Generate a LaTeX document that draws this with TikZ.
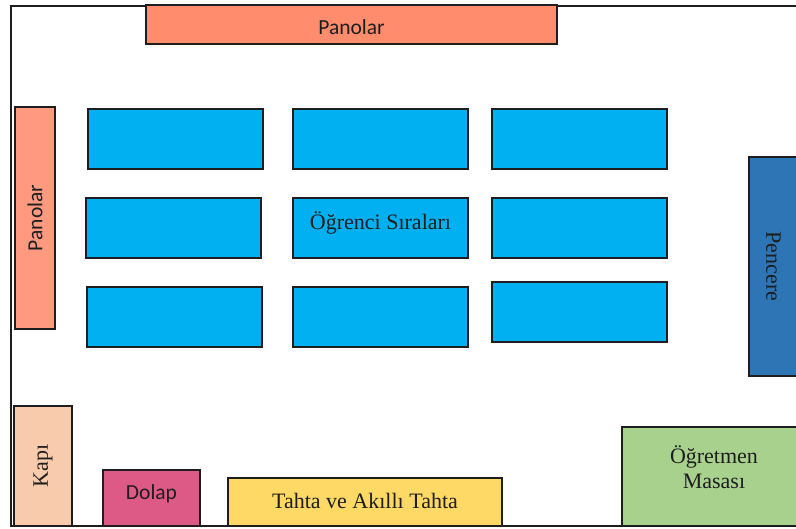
\documentclass[tikz,border=0pt]{standalone}
\usepackage{fontspec}
\usepackage{graphicx}
\setmainfont{Liberation Serif}
\newfontfamily\calibri{Carlito}

\definecolor{panelTop}{HTML}{FF8C6C}
\definecolor{panelSide}{HTML}{FF9A80}
\definecolor{deskBlue}{HTML}{00B0F0}
\definecolor{windowBlue}{HTML}{2E75B6}
\definecolor{doorPeach}{HTML}{F8CBAD}
\definecolor{cabinetPink}{HTML}{DE5A86}
\definecolor{boardYellow}{HTML}{FFD966}
\definecolor{tableGreen}{HTML}{A9D18E}
\definecolor{ink}{HTML}{1E1E1E}

% move a label up or down without changing its box size
\newcommand{\lift}[2]{\raisebox{#1}[\height][\depth]{#2}}

\begin{document}
\begin{tikzpicture}[x=1pt,y=-1pt,
  wall/.style={draw=ink, line width=1.8pt},
  item/.style={draw=ink, line width=1.9pt, inner sep=0pt, outer sep=0pt,
               anchor=north west, text=ink, align=center},
  sz/.style 2 args={minimum width=#1pt, minimum height=#2pt},
  serif/.style={font=\fontsize{22}{26}\selectfont},
  sans/.style={font=\calibri\fontsize{21.5}{26}\selectfont},
  desk/.style={item, fill=deskBlue, sz={175}{60}}]

\useasboundingbox (0,0) rectangle (796,529);
\fill[white] (0,0) rectangle (796,529);

% classroom walls (open on the window side)
\draw[wall] (800,6) -- (11,6) -- (11,526) -- (800,526);

% notice boards
\node[item, fill=panelTop, sz={411}{39}, sans] (panoTop) at (146,5) {\lift{-2.5pt}{Panolar}};
\node[item, fill=panelSide, sz={40}{222}, sans] (panoSide) at (15,107) {\rotatebox{90}{Panolar}};

% student desks, three rows by three columns
\node[desk] (d11) at (88,109) {};
\node[desk] (d12) at (293,109) {};
\node[desk] (d13) at (492,109) {};
\node[desk] (d21) at (86,198) {};
\node[desk, serif] (d22) at (293,198) {\lift{5pt}{Öğrenci Sıraları}};
\node[desk] (d23) at (492,198) {};
\node[desk] (d31) at (87,287) {};
\node[desk] (d32) at (293,287) {};
\node[desk] (d33) at (492,282) {};

% window
\node[item, fill=windowBlue, sz={49}{219}, serif] (window) at (749,157) {\rotatebox{-90}{Pencere}};

% door, cabinet, board
\node[item, fill=doorPeach, sz={58}{120}, serif] (door) at (14,406) {\rotatebox{90}{Kapı}};
\node[item, fill=cabinetPink, sz={97}{56}, sans] (cabinet) at (103,470) {\lift{4.5pt}{Dolap}};
\node[item, fill=boardYellow, sz={274}{48}, serif] (board) at (228,478) {\lift{1pt}{Tahta ve Akıllı Tahta}};

% teacher's desk
\node[item, fill=tableGreen, sz={184}{99}, serif] (teacher) at (622,427) {\lift{9pt}{\shortstack{Öğretmen\\[3pt]Masası}}};

\end{tikzpicture}
\end{document}
